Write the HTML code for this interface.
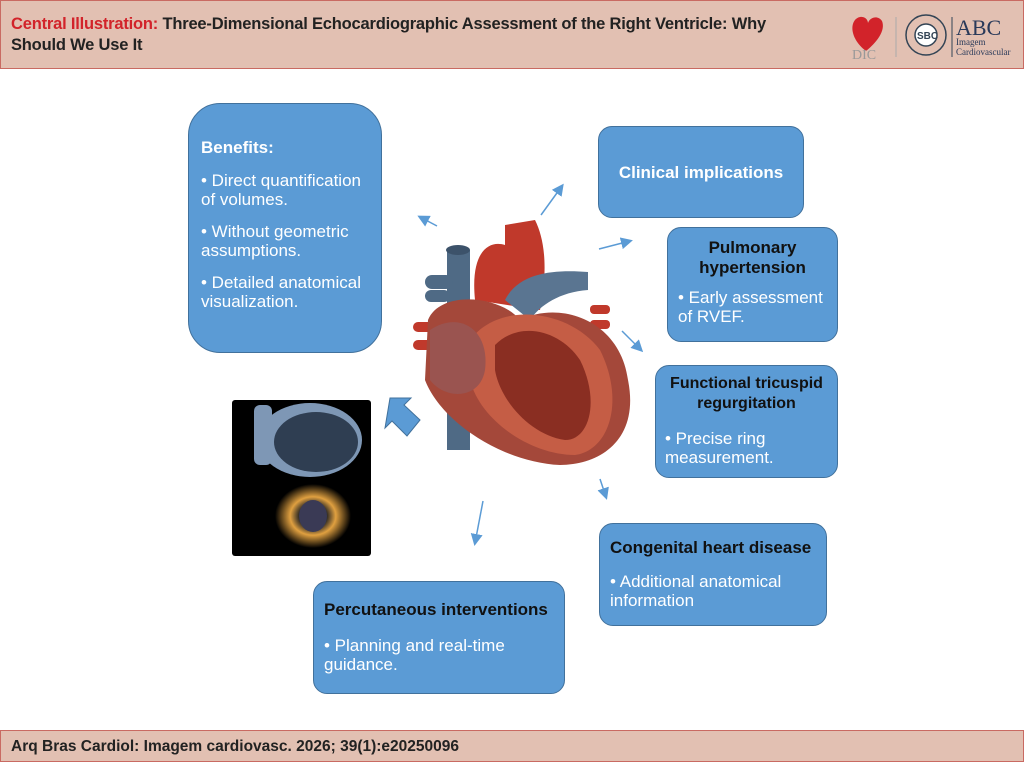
<!DOCTYPE html>
<html><head><meta charset="utf-8"><style>
body{margin:0;width:1024px;height:762px;position:relative;background:#fff;font-family:"Liberation Sans",sans-serif;overflow:hidden}
.hdr{position:absolute;left:0;top:0;width:1022px;height:67px;background:#e2c0b2;border:1px solid #c96a62}
.ftr{position:absolute;left:0;top:730px;width:1022px;height:30px;background:#e2c0b2;border:1px solid #c96a62}
.box{position:absolute;background:#5b9bd5;border:1.5px solid #41719c;color:#fff;box-sizing:border-box;font-size:17px;line-height:19px}
.box b{font-size:17px}
</style></head><body>
<div class="hdr">
<div style="position:absolute;left:10px;top:13px;font-size:16.5px;font-weight:bold;line-height:21px;color:#222;letter-spacing:-0.2px"><span style="color:#d2232a">Central Illustration:</span> Three-Dimensional Echocardiographic Assessment of the Right Ventricle: Why<br>Should We Use It</div>
<svg style="position:absolute;left:845px;top:10px" width="175" height="50">
<path d="M20 40 C2 26 4 8 14 6 C20 5 22 10 22 12 C24 6 32 4 36 10 C40 20 30 32 20 40Z" fill="#d2232a"/>
<text x="6" y="48" font-family="Liberation Serif" font-size="14" fill="#999">DIC</text>
<line x1="50" y1="6" x2="50" y2="46" stroke="#aaa"/>
<circle cx="80" cy="24" r="20" fill="none" stroke="#345" stroke-width="1.5"/>
<circle cx="80" cy="24" r="11" fill="#fff" stroke="#345" stroke-width="1.5"/>
<text x="71" y="28" font-size="10" font-weight="bold" fill="#345">SBC</text>
<line x1="106" y1="6" x2="106" y2="46" stroke="#345"/>
<text x="110" y="24" font-family="Liberation Serif" font-size="22" fill="#2a3a5a">ABC</text>
<text x="110" y="34" font-family="Liberation Serif" font-size="9" fill="#2a3a5a">Imagem</text>
<text x="110" y="44" font-family="Liberation Serif" font-size="9" fill="#2a3a5a">Cardiovascular</text>
</svg>
</div>

<div class="box" style="left:188px;top:103px;width:194px;height:250px;border-radius:32px;padding:34px 12px 0 12px"><b>Benefits:</b><div style="margin-top:14px">• Direct quantification of volumes.</div><div style="margin-top:13px">• Without geometric assumptions.</div><div style="margin-top:13px">• Detailed anatomical visualization.</div></div>
<div class="box" style="left:598px;top:126px;width:206px;height:92px;border-radius:14px;padding-top:36px;text-align:center"><b>Clinical implications</b></div>
<div class="box" style="left:667px;top:227px;width:171px;height:115px;border-radius:14px;padding:10px 10px 0 10px"><div style="text-align:center;font-weight:bold;font-size:17px;line-height:20px;color:#111">Pulmonary<br>hypertension</div><div style="margin-top:10px">• Early assessment of RVEF.</div></div>
<div class="box" style="left:655px;top:365px;width:183px;height:113px;border-radius:14px;padding:8px 18px 0 9px"><div style="text-align:center;font-weight:bold;font-size:16px;line-height:20px;color:#111;margin-right:-9px">Functional tricuspid<br>regurgitation</div><div style="margin-top:15px">• Precise ring measurement.</div></div>
<div class="box" style="left:599px;top:523px;width:228px;height:103px;border-radius:14px;padding:14px 0 0 10px"><b style="color:#111">Congenital heart disease</b><div style="margin-top:15px">• Additional anatomical information</div></div>
<div class="box" style="left:313px;top:581px;width:252px;height:113px;border-radius:14px;padding:18px 4px 0 10px"><b style="color:#111;white-space:nowrap">Percutaneous interventions</b><div style="margin-top:17px;width:200px">• Planning and real-time guidance.</div></div>

<svg style="position:absolute;left:0;top:0" width="1024" height="730">
<defs><marker id="a" markerWidth="8" markerHeight="8" refX="6" refY="4" orient="auto"><path d="M0 0L8 4L0 8Z" fill="#5b9bd5"/></marker>
<radialGradient id="ring" cx="0.5" cy="0.5" r="0.5"><stop offset="0.35" stop-color="#222"/><stop offset="0.6" stop-color="#e0a040"/><stop offset="1" stop-color="#000"/></radialGradient></defs>
<g stroke="#5b9bd5" stroke-width="1.5" marker-end="url(#a)">
<line x1="437" y1="226" x2="420" y2="217"/><line x1="541" y1="215" x2="562" y2="186"/>
<line x1="599" y1="249" x2="630" y2="241"/><line x1="622" y1="331" x2="641" y2="350"/>
<line x1="600" y1="479" x2="606" y2="497"/><line x1="483" y1="501" x2="475" y2="543"/>
</g>
<rect x="232" y="400" width="139" height="156" rx="3" fill="#000"/>
<rect x="254" y="405" width="18" height="60" rx="6" fill="#7e97b5"/>
<ellipse cx="310" cy="440" rx="52" ry="37" fill="#7e97b5"/>
<ellipse cx="316" cy="442" rx="42" ry="30" fill="#2f3e52"/>
<ellipse cx="313" cy="516" rx="38" ry="32" fill="url(#ring)"/>
<ellipse cx="313" cy="516" rx="14" ry="16" fill="#3a3a55"/>
<path d="M420 420 L404 405 L411 398 L390 398 L385 428 L392 421 L407 436Z" fill="#5b9bd5" stroke="#41719c"/>
<rect x="447" y="250" width="23" height="200" fill="#4f6a85"/>
<ellipse cx="458" cy="250" rx="12" ry="5" fill="#3c526a"/>
<rect x="425" y="275" width="28" height="14" rx="7" fill="#4f6a85"/>
<rect x="425" y="290" width="25" height="12" rx="6" fill="#4f6a85"/>
<rect x="413" y="322" width="22" height="10" rx="5" fill="#c0392b"/>
<rect x="413" y="340" width="22" height="10" rx="5" fill="#c0392b"/>
<rect x="590" y="305" width="20" height="9" rx="4" fill="#c0392b"/>
<rect x="590" y="320" width="20" height="9" rx="4" fill="#c0392b"/>
<path d="M475 300 C470 250 490 240 505 245 L505 225 L535 220 C545 240 548 270 540 310Z" fill="#c0392b"/>
<path d="M505 300 C520 270 560 270 588 272 L588 290 C560 292 540 305 530 320Z" fill="#5a7591"/>
<path d="M428 320 C440 290 500 295 520 320 C560 300 620 320 628 380 C640 440 600 465 560 465 C500 462 440 420 425 380Z" fill="#a4483a"/>
<path d="M470 340 C500 300 570 310 600 350 C625 400 610 450 575 455 C530 455 480 420 470 380Z" fill="#c55d45"/>
<path d="M495 345 C520 320 560 330 580 360 C600 400 590 440 565 440 C530 435 500 400 495 370Z" fill="#8a2e22"/>
<path d="M430 330 C460 310 490 330 485 370 C480 400 445 400 430 380Z" fill="#9a5450"/>
</svg>

<div class="ftr"><div style="position:absolute;left:10px;top:7px;font-size:15.5px;font-weight:bold;color:#222">Arq Bras Cardiol: Imagem cardiovasc. 2026; 39(1):e20250096</div></div>
</body></html>
